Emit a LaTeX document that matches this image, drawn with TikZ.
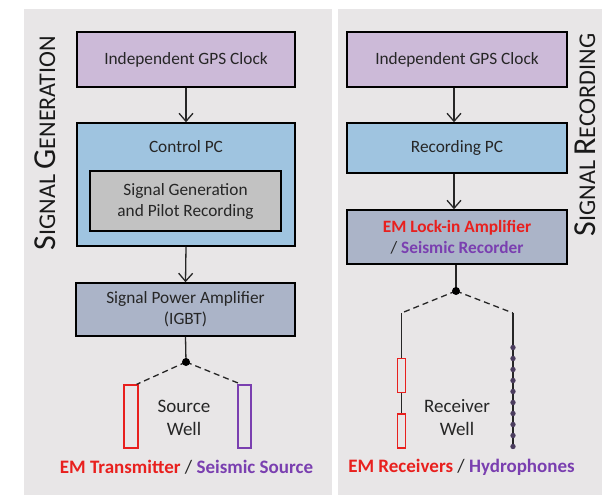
\documentclass[tikz,border=0pt]{standalone}
\usepackage{fontspec}
\setmainfont{Carlito}
\usetikzlibrary{arrows.meta}
\definecolor{panelbg}{HTML}{E8E6E7}
\definecolor{gpsfill}{HTML}{CCBAD8}
\definecolor{pcfill}{HTML}{9FC4E0}
\definecolor{innerfill}{HTML}{C2C2C2}
\definecolor{ampfill}{HTML}{ABB4C8}
\definecolor{emred}{HTML}{E8201E}
\definecolor{seispurple}{HTML}{7A3FB0}
\definecolor{txt}{HTML}{262626}
\definecolor{hydro}{HTML}{4B3D5E}
\newcommand{\bigsc}[1]{{\fontsize{32}{32}\selectfont #1}}
\newcommand{\smallsc}[1]{{\fontsize{24}{24}\selectfont #1}}
\begin{document}
\begin{tikzpicture}[x=1pt,y=-1pt,
  box/.style={draw=black, line width=1.5pt, inner sep=0pt, font=\fontsize{17.3}{21}\selectfont, text=txt, align=center},
  arr/.style={draw=txt, line width=1.3pt, -{Straight Barb[length=8pt,width=14pt,line width=1.3pt]}},
  wire/.style={draw=txt, line width=1.3pt},
  dline/.style={draw=txt, line width=1.3pt, dash pattern=on 6pt off 4pt},
  well/.style={font=\fontsize{19}{23}\selectfont, text=txt, align=center},
  lbl/.style={font=\fontsize{19}{23}\selectfont, text=txt},
  side/.style={rotate=90, anchor=base, text=black!90, inner sep=0pt, font=\fontsize{24}{24}\selectfont},
  redrect/.style={draw=emred, line width=1.3pt, fill=panelbg, inner sep=0pt}
]
\useasboundingbox (0,0) rectangle (603,495);
\fill[white] (0,0) rectangle (603,495);
\fill[panelbg] (24,9) rectangle (332,495);
\fill[panelbg] (338,9) rectangle (602,495);

% ---------- left: signal generation ----------
\node[side] (sgen) at (55,143) {\bigsc{S}\smallsc{IGNAL} \bigsc{G}\smallsc{ENERATION}};

\node[box, fill=gpsfill, minimum width=218pt, minimum height=55pt] (gpsL) at (186,59.5) {Independent GPS Clock};
\node[box, fill=pcfill, minimum width=218pt, minimum height=123pt] (ctrl) at (186,184.5) {};
\node[font=\fontsize{17.3}{21}\selectfont, text=txt] (ctrlT) at (186,147) {Control PC};
\node[box, fill=innerfill, minimum width=191pt, minimum height=60pt] (inner) at (185.5,201) {Signal Generation\\and Pilot Recording};
\node[box, fill=ampfill, minimum width=219pt, minimum height=53pt] (ampL) at (185.5,309.5) {Signal Power Amplifier\\(IGBT)};

\draw[arr] (gpsL.south) -- (ctrl.north);
\draw[arr] (ctrl.south) -- (ampL.north);

\coordinate (jL) at (186,362);
\draw[wire] (ampL.south) -- (jL);
\node[redrect, minimum width=14pt, minimum height=63pt] (tx) at (131,416.5) {};
\node[draw=seispurple, line width=1.3pt, inner sep=0pt, minimum width=13pt, minimum height=63pt] (ss) at (244.5,416.5) {};
\draw[dline] (jL) -- ([xshift=-2pt]tx.north east);
\draw[dline] (jL) -- ([xshift=4pt]ss.north west);
\fill[black] (jL) circle (4);

\node[well] (srcwell) at (184,418) {Source\\Well};
\node[lbl] (leftlbl) at (186.5,467) {\textcolor{emred}{\textbf{EM Transmitter}} / \textcolor{seispurple}{\textbf{Seismic Source}}};

% ---------- right: signal recording ----------
\node[side] (srec) at (595,135) {\bigsc{S}\smallsc{IGNAL} \bigsc{R}\smallsc{ECORDING}};

\node[box, fill=gpsfill, minimum width=220pt, minimum height=55pt] (gpsR) at (457,59.5) {Independent GPS Clock};
\node[box, fill=pcfill, minimum width=220pt, minimum height=50pt] (recpc) at (457,148) {Recording PC};
\node[box, fill=ampfill, minimum width=220pt, minimum height=54pt] (lockin) at (457,237) {\textcolor{emred}{\textbf{EM Lock-in Amplifier}}\\/ \textcolor{seispurple}{\textbf{Seismic Recorder}}};

\draw[arr] ([xshift=-3pt]gpsR.south) -- ([xshift=-3pt]recpc.north);
\draw[arr] ([xshift=-3pt]recpc.south) -- ([xshift=-3pt]lockin.north);

\coordinate (jR) at (456,291);
\draw[wire] ([xshift=-1pt]lockin.south) -- (jR);
\coordinate (cE) at (401.5,313);
\coordinate (cH) at (513,313);
\coordinate (eBot) at (401.5,448);
\coordinate (hBot) at (513,447);
\draw[dline] (jR) -- (cE);
\draw[dline] (jR) -- (cH);
\draw[wire] (cE) -- (eBot);
\draw[wire] (cH) -- (hBot);
\fill[black] (jR) circle (4);

\node[redrect, minimum width=8pt, minimum height=34pt] (rx1) at (401.5,375.5) {};
\node[redrect, minimum width=8pt, minimum height=34pt] (rx2) at (401.5,431) {};
\foreach \i in {0,...,9} \fill[hydro] (513,347.5+11*\i) circle (2.7);

\node[well] (recwell) at (457,418) {Receiver\\Well};
\node[lbl] (rightlbl) at (461.5,467) {\textcolor{emred}{\textbf{EM Receivers}} / \textcolor{seispurple}{\textbf{Hydrophones}}};
\end{tikzpicture}
\end{document}
